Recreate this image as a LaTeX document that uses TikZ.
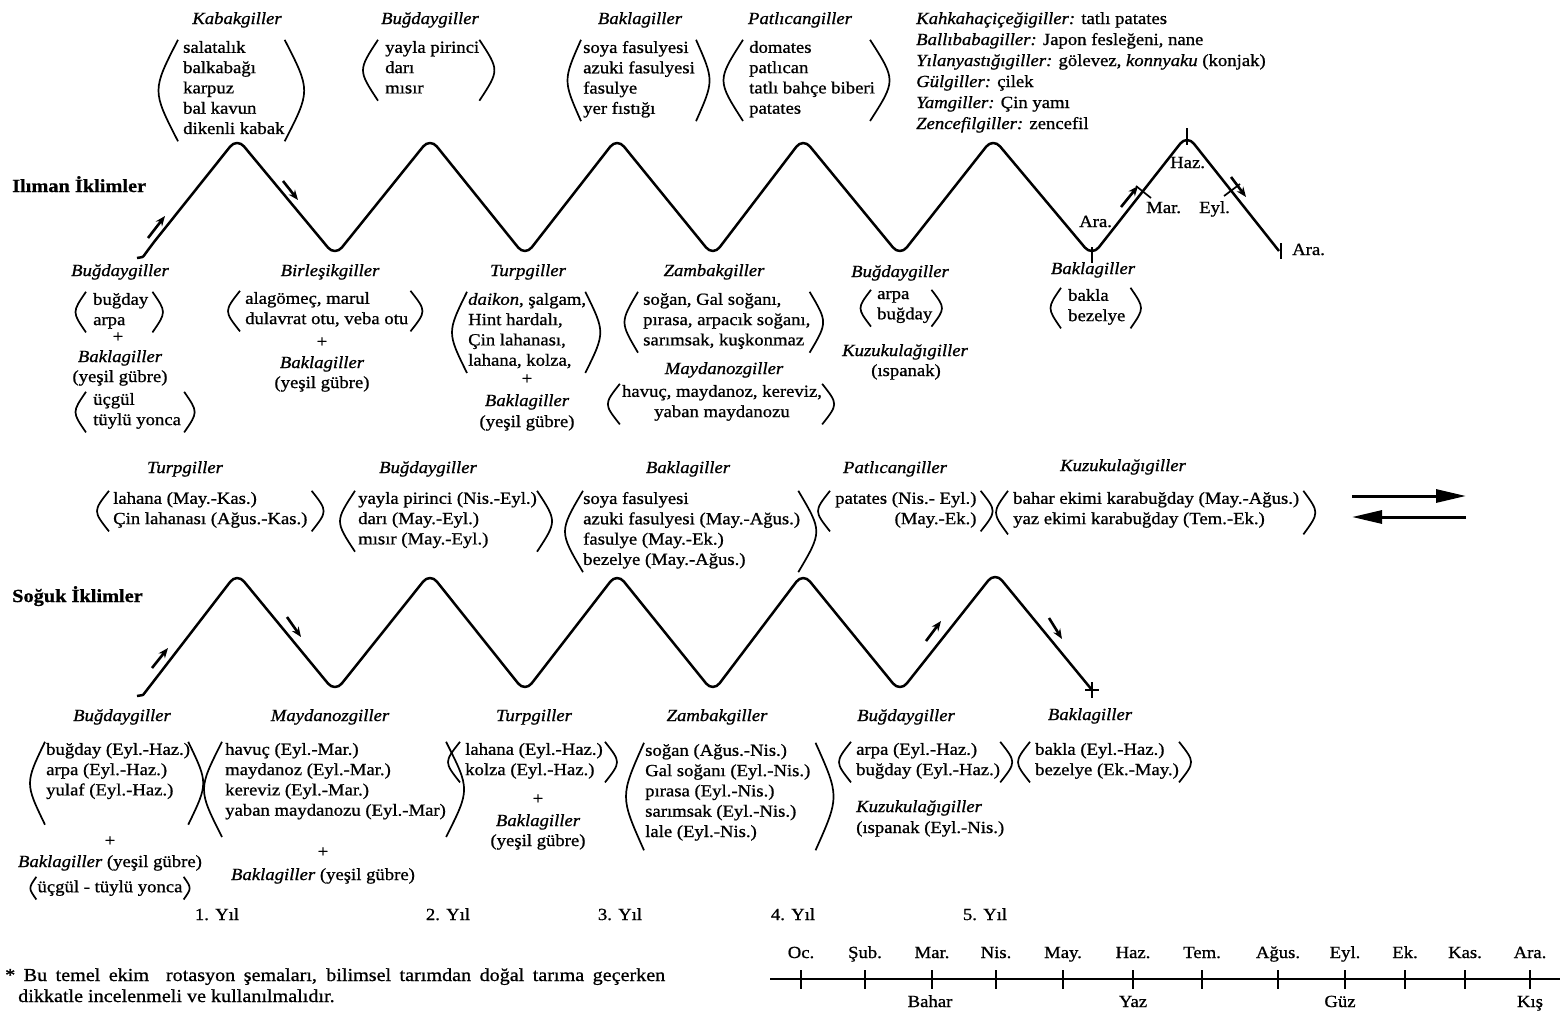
\documentclass[tikz,border=0pt]{standalone}
\usepackage{fontspec}
\setmainfont{Liberation Serif}[FakeStretch=1.1, FakeBold=0.9]
\usetikzlibrary{arrows.meta,calc}

% distance from a list's first baseline up to its top edge
\newcommand\lsk{10.2}

% parentheses around a list node:
% #1 node, #2 bulge, #3 left gap, #4 right gap, #5 extra above, #6 extra below
\newcommand\parwrap[6]{%
  \draw[paren] ([shift={({-#3+#2},{-#5})}]#1.north west)
     .. controls ([shift={({-#3-#2},{(#6-#5)/2})}]#1.west)
     .. ([shift={({-#3+#2},{#6})}]#1.south west);
  \draw[paren] ([shift={({#4-#2},{-#5})}]#1.north east)
     .. controls ([shift={({#4+#2},{(#6-#5)/2})}]#1.east)
     .. ([shift={({#4-#2},{#6})}]#1.south east);
}

\begin{document}
\begin{tikzpicture}[x=1pt,y=-1pt,
  every node/.style={inner sep=0pt, font=\fontsize{17}{20.3}\selectfont},
  fam/.style={anchor=base, font=\fontsize{17}{20.3}\selectfont\itshape},
  txt/.style={anchor=base},
  ltxt/.style={anchor=base west},
  lst/.style={align=left, anchor=north west, inner ysep=1pt,
    execute at begin node=\strut, execute at end node=\strut},
  clst/.style={lst, align=center, anchor=north},
  rlst/.style={lst, align=right},
  head/.style={anchor=base west, font=\fontsize{18.5}{21}\selectfont\bfseries},
  note/.style={anchor=base west, font=\fontsize{18.3}{21}\selectfont},
  paren/.style={line width=1.7pt},
  wave/.style={line width=2.5pt, rounded corners=11pt, line join=round},
  flow/.style={line width=2.6pt, -{Stealth[length=10pt,width=8pt]}},
  tick/.style={line width=1.7pt},
  bigarrow/.style={line width=3pt, -{Triangle[length=30pt,width=13pt]}}
]
\fill[white] (0,0) rectangle (1565,1015);
\useasboundingbox (0,0) rectangle (1565,1015);

% ---------------- temperate climates: crops above the peaks
\node[fam] (kabakT) at (237,24) {Kabakgiller};
\node[lst] (kabakL) at (183,50-\lsk) {salatalık\\balkabağı\\karpuz\\bal kavun\\dikenli kabak};
\parwrap{kabakL}{13}{18}{13}{0}{0}

\node[fam] (bugT) at (430,24) {Buğdaygiller};
\node[lst] (bugL) at (385,50-\lsk) {yayla pirinci\\darı\\mısır};
\parwrap{bugL}{10}{17}{10}{0}{0}

\node[fam] (bakT) at (640,24) {Baklagiller};
\node[lst] (bakL) at (583,50-\lsk) {soya fasulyesi\\azuki fasulyesi\\fasulye\\yer fıstığı};
\parwrap{bakL}{9}{11}{10}{0}{0}

\node[fam] (patT) at (800,24) {Patlıcangiller};
\node[lst] (patL) at (749,50-\lsk) {domates\\patlıcan\\tatlı bahçe biberi\\patates};
\parwrap{patL}{13}{19}{8}{0}{0}

\node[ltxt] (other1) at (916,24) {\textit{Kahkahaçiçeğigiller:} tatlı patates};
\node[ltxt] (other2) at (916,45) {\textit{Ballıbabagiller:} Japon fesleğeni, nane};
\node[ltxt] (other3) at (916,66) {\textit{Yılanyastığıgiller:} gölevez, \textit{konnyaku} (konjak)};
\node[ltxt] (other4) at (916,87) {\textit{Gülgiller:} çilek};
\node[ltxt] (other5) at (916,108) {\textit{Yamgiller:} Çin yamı};
\node[ltxt] (other6) at (916,129) {\textit{Zencefilgiller:} zencefil};

\node[head] (ilimanH) at (12,192) {Ilıman İklimler};

% temperate rotation line
\draw[wave] (137,258) .. controls (143,257) .. (150,247) -- (237,138) -- (335,256)
  -- (430,138) -- (525,256) -- (617,138) -- (713,256) -- (803,138) -- (900,256)
  -- (993,138) -- (1092,256) -- (1187,135) -- (1279,251);
\draw[flow] (148,238) -- (165,216);
\draw[flow] (283,181) -- (298,200);
\draw[tick] (1092,247) -- (1092,263);
\draw[tick] (1187,128) -- (1187,145);
\draw[tick] (1281,243) -- (1281,259);
\draw[tick] (1136,186) -- (1151,198);
\draw[tick] (1224,196) -- (1240,184);
\draw[flow] (1121,207) -- (1138,186);
\draw[flow] (1231,177) -- (1246,197);
\node[ltxt] (mHaz) at (1170,168) {Haz.};
\node[ltxt] (mMar) at (1146,213) {Mar.};
\node[ltxt] (mEyl) at (1199,213) {Eyl.};
\node[ltxt] (mAra1) at (1079,227) {Ara.};
\node[ltxt] (mAra2) at (1292,255) {Ara.};

% temperate climates: crops below the troughs
\node[fam] (iBugT) at (120,276) {Buğdaygiller};
\node[lst] (iBugL) at (93,302-\lsk) {buğday\\arpa};
\parwrap{iBugL}{7}{14}{11}{0}{0}
\node[txt] (iBugP) at (118,342) {+};
\node[fam] (iBugB) at (120,362) {Baklagiller};
\node[txt] (iBugG) at (120,382) {(yeşil gübre)};
\node[lst] (iBugC) at (93,402-\lsk) {üçgül\\tüylü yonca};
\parwrap{iBugC}{7}{14}{10}{0}{0}

\node[fam] (iBirT) at (330,276) {Birleşikgiller};
\node[lst] (iBirL) at (245,301-\lsk) {alagömeç, marul\\dulavrat otu, veba otu};
\parwrap{iBirL}{8}{13}{10}{0}{0}
\node[txt] (iBirP) at (322,347) {+};
\node[fam] (iBirB) at (322,368) {Baklagiller};
\node[txt] (iBirG) at (322,388) {(yeşil gübre)};

\node[fam] (iTurT) at (528,276) {Turpgiller};
\node[lst] (iTurL) at (468,302-\lsk) {\textit{daikon}, şalgam,\\Hint hardalı,\\Çin lahanası,\\lahana, kolza,};
\parwrap{iTurL}{10}{11}{9}{0}{0}
\node[txt] (iTurP) at (527,384) {+};
\node[fam] (iTurB) at (527,406) {Baklagiller};
\node[txt] (iTurG) at (527,427) {(yeşil gübre)};

\node[fam] (iZamT) at (714,276) {Zambakgiller};
\node[lst] (iZamL) at (643,302-\lsk) {soğan, Gal soğanı,\\pırasa, arpacık soğanı,\\sarımsak, kuşkonmaz};
\parwrap{iZamL}{9}{14}{8}{0}{0}
\node[fam] (iMayT) at (724,374) {Maydanozgiller};
\node[clst] (iMayL) at (722,394-\lsk) {havuç, maydanoz, kereviz,\\yaban maydanozu};
\parwrap{iMayL}{8}{10}{8}{0}{0}

\node[fam] (iBug2T) at (900,277) {Buğdaygiller};
\node[lst] (iBug2L) at (877,300-\lsk) {arpa\\buğday};
\parwrap{iBug2L}{7}{13}{6}{0}{0}
\node[fam] (iKuzT) at (905,356) {Kuzukulağıgiller};
\node[txt] (iKuzL) at (906,376) {(ıspanak)};

\node[fam] (iBak2T) at (1093,274) {Baklagiller};
\node[lst] (iBak2L) at (1068,298-\lsk) {bakla\\bezelye};
\parwrap{iBak2L}{7}{14}{12}{0}{0}

% ---------------- cold climates: crops above the peaks
\node[fam] (cTurT) at (185,473) {Turpgiller};
\node[lst] (cTurL) at (113,501-\lsk) {lahana (May.-Kas.)\\Çin lahanası (Ağus.-Kas.)};
\parwrap{cTurL}{8}{12}{12}{0}{0}

\node[fam] (cBugT) at (428,473) {Buğdaygiller};
\node[lst] (cBugL) at (358,501-\lsk) {yayla pirinci (Nis.-Eyl.)\\darı (May.-Eyl.)\\mısır (May.-Eyl.)};
\parwrap{cBugL}{10}{13}{10}{0}{0}

\node[fam] (cBakT) at (688,473) {Baklagiller};
\node[lst] (cBakL) at (583,501-\lsk) {soya fasulyesi\\azuki fasulyesi (May.-Ağus.)\\fasulye (May.-Ek.)\\bezelye (May.-Ağus.)};
\parwrap{cBakL}{12}{12}{10}{0}{0}

\node[fam] (cPatT) at (895,473) {Patlıcangiller};
\node[rlst] (cPatL) at (835,501-\lsk) {patates (Nis.- Eyl.)\\(May.-Ek.)};
\parwrap{cPatL}{8}{13}{12}{0}{0}

\node[fam] (cKuzT) at (1123,471) {Kuzukulağıgiller};
\node[lst] (cKuzL) at (1013,501-\lsk) {bahar ekimi karabuğday (May.-Ağus.)\\yaz ekimi karabuğday (Tem.-Ek.)};
\parwrap{cKuzL}{8}{13}{12}{0}{3}

\coordinate (fwdA) at (1352,496);
\coordinate (fwdB) at (1466,496);
\coordinate (bwdA) at (1466,517);
\coordinate (bwdB) at (1352,517);
\draw[bigarrow] (fwdA) -- (fwdB);
\draw[bigarrow] (bwdA) -- (bwdB);

\node[head] (sogukH) at (12,602) {Soğuk İklimler};

% cold rotation line
\draw[wave] (137,696) .. controls (143,695) .. (150,686) -- (237,573) -- (335,692)
  -- (430,573) -- (525,692) -- (617,573) -- (713,692) -- (803,573) -- (900,692)
  -- (995,572) -- (1092,690);
\draw[tick] (1092,682) -- (1092,698);
\draw[tick] (1085,690) -- (1099,690);
\draw[flow] (152,668) -- (168,648);
\draw[flow] (287,617) -- (301,637);
\draw[flow] (926,641) -- (941,621);
\draw[flow] (1049,618) -- (1062,639);

% cold climates: crops below the troughs
\node[fam] (sBugT) at (122,721) {Buğdaygiller};
\node[lst] (sBugL) at (46,752-\lsk) {buğday (Eyl.-Haz.)\\arpa (Eyl.-Haz.)\\yulaf (Eyl.-Haz.)};
\parwrap{sBugL}{10}{11}{8}{0}{22}
\node[txt] (sBugP) at (110,846) {+};
\node[txt] (sBugB) at (110,867) {\textit{Baklagiller} (yeşil gübre)};
\node[clst] (sBugC) at (110,887-\lsk) {üçgül - tüylü yonca};
\parwrap{sBugC}{4}{5}{5}{0}{0}

\node[fam] (sMayT) at (330,721) {Maydanozgiller};
\node[lst] (sMayL) at (225,752-\lsk) {havuç (Eyl.-Mar.)\\maydanoz (Eyl.-Mar.)\\kereviz (Eyl.-Mar.)\\yaban maydanozu (Eyl.-Mar)};
\parwrap{sMayL}{12}{15}{12}{0}{14}
\node[txt] (sMayP) at (323,857) {+};
\node[txt] (sMayB) at (323,880) {\textit{Baklagiller} (yeşil gübre)};

\node[fam] (sTurT) at (534,721) {Turpgiller};
\node[lst] (sTurL) at (465,752-\lsk) {lahana (Eyl.-Haz.)\\kolza (Eyl.-Haz.)};
\parwrap{sTurL}{8}{13}{10}{0}{0}
\node[txt] (sTurP) at (538,804) {+};
\node[fam] (sTurB) at (538,826) {Baklagiller};
\node[txt] (sTurG) at (538,846) {(yeşil gübre)};

\node[fam] (sZamT) at (717,721) {Zambakgiller};
\node[lst] (sZamL) at (645,753-\lsk) {soğan (Ağus.-Nis.)\\Gal soğanı (Eyl.-Nis.)\\pırasa (Eyl.-Nis.)\\sarımsak (Eyl.-Nis.)\\lale (Eyl.-Nis.)};
\parwrap{sZamL}{12}{13}{17}{0}{6}

\node[fam] (sBug2T) at (906,721) {Buğdaygiller};
\node[lst] (sBug2L) at (856,752-\lsk) {arpa (Eyl.-Haz.)\\buğday (Eyl.-Haz.)};
\parwrap{sBug2L}{8}{13}{8}{0}{0}
\node[ltxt, font=\fontsize{17}{20.3}\selectfont\itshape] (sKuzT) at (856,812) {Kuzukulağıgiller};
\node[ltxt] (sKuzL) at (856,833) {(ıspanak (Eyl.-Nis.)};

\node[fam] (sBak2T) at (1090,720) {Baklagiller};
\node[lst] (sBak2L) at (1035,752-\lsk) {bakla (Eyl.-Haz.)\\bezelye (Ek.-May.)};
\parwrap{sBak2L}{8}{13}{8}{0}{0}

% year marks
\node[txt] (y1) at (217,920) {1. Yıl};
\node[txt] (y2) at (448,920) {2. Yıl};
\node[txt] (y3) at (620,920) {3. Yıl};
\node[txt] (y4) at (793,920) {4. Yıl};
\node[txt] (y5) at (985,920) {5. Yıl};

% footnote
\node[note] (note1) at (5,981) {\makebox[660pt][s]{* Bu temel ekim\ \ rotasyon şemaları, bilimsel tarımdan doğal tarıma geçerken}};
\node[note] (note2) at (18,1002) {dikkatle incelenmeli ve kullanılmalıdır.};

% month scale
\draw[line width=2pt] (770,979) -- (1560,979);
\foreach \mx/\mn in {801/Oc., 865/Şub., 932/Mar., 996/Nis., 1063/May., 1133/Haz.,
                      1202/Tem., 1278/Ağus., 1345/Eyl., 1405/Ek., 1465/Kas., 1530/Ara.}{
  \draw[tick] (\mx,970) -- (\mx,989);
  \node[txt] at (\mx,958) {\mn};
}
\node[txt] (sBahar) at (930,1007) {Bahar};
\node[txt] (sYaz) at (1133,1007) {Yaz};
\node[txt] (sGuz) at (1340,1007) {Güz};
\node[txt] (sKis) at (1530,1007) {Kış};

\end{tikzpicture}
\end{document}
